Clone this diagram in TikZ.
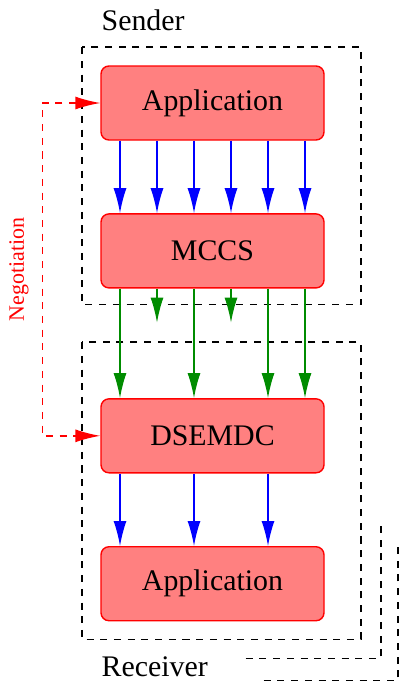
\documentclass[tikz,border=0pt]{standalone}
\usepackage{fontspec}
\setmainfont{Liberation Serif}
\usetikzlibrary{arrows.meta,positioning,calc}

\begin{document}
\begin{tikzpicture}[
    node distance=1.45cm,
    font=\fontsize{17}{20}\selectfont,
    layer/.style={rectangle, rounded corners=0.16cm, draw=red, fill=red!50, line width=0.8pt, minimum width=4.46cm, minimum height=1.48cm, inner sep=0pt},
    lbl/.style={inner sep=0pt, anchor=west},
    bigtip/.style={-{Latex[length=5mm,width=2.6mm]}},
    flow/.style={bigtip, blue, line width=0.85pt},
    stream/.style={bigtip, green!55!black, line width=0.85pt},
    frame/.style={dash pattern=on 4pt off 3.8pt, line width=1pt},
    nego/.style={{Latex[length=5mm,width=2.6mm]}-{Latex[length=5mm,width=2.6mm]}, red, dash pattern=on 4pt off 3.8pt, line width=0.85pt}
]
    \useasboundingbox (0,0) rectangle (7.96,-13.62);

    \node[layer] (app1) at (4.25,-2.06) {Application};
    \node[layer, below=of app1] (mccs) {MCCS};
    \node[layer, below=2.19cm of mccs] (dsemdc) {DSEMDC};
    \node[layer, below=1.45cm of dsemdc] (app2) {Application};

    \node[lbl] (sender) at ($(app1.north west)+(0.02,0.9)$) {Sender};
    \node[lbl] (receiver) at ($(app2.south west)+(0.02,-0.9)$) {Receiver};

    % Sender and receiver frames
    \draw[frame] ($(app1.north west)+(-0.36,0.36)$) rectangle ($(mccs.south east)+(0.72,-0.32)$);
    \coordinate (rcv) at ($(app2.south east)+(0.72,-0.36)$);
    \draw[frame] ($(dsemdc.north west)+(-0.36,1.12)$) rectangle (rcv);
    \draw[frame] ($(rcv)+(-2.3,-0.38)$) -- ($(rcv)+(0.4,-0.38)$) -- ($(rcv)+(0.4,2.36)$);
    \draw[frame] ($(rcv)+(-1.94,-0.82)$) -- ($(rcv)+(0.74,-0.82)$) -- ($(rcv)+(0.74,1.9)$);

    % Data flows
    \foreach \dx in {-1.85,-1.11,-0.37,0.37,1.11,1.85}
        \draw[flow] ([xshift=\dx cm]app1.south) -- ([xshift=\dx cm]mccs.north);
    \foreach \dx in {-1.85,-0.37,1.11,1.85}
        \draw[stream] ([xshift=\dx cm]mccs.south) -- ([xshift=\dx cm]dsemdc.north);
    \foreach \dx in {-1.11,0.37}
        \draw[stream] ([xshift=\dx cm]mccs.south) -- ++(0,-0.68);
    \foreach \dx in {-1.85,-0.37,1.11}
        \draw[flow] ([xshift=\dx cm]dsemdc.south) -- ([xshift=\dx cm]app2.north);

    % Negotiation
    \coordinate (negtop) at ($(app1.west)+(-1.16,0)$);
    \draw[nego] (app1.west) -- (negtop) |- node[pos=0.25, rotate=90, anchor=south, inner sep=0.26cm, font=\fontsize{12.5}{15}\selectfont] {Negotiation} (dsemdc.west);
\end{tikzpicture}
\end{document}
